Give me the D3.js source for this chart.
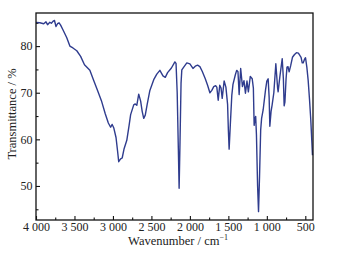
<!DOCTYPE html>
<html>
<head>
<meta charset="utf-8">
<script src="https://cdn.jsdelivr.net/npm/d3@7"></script>
<style>
  body { margin: 0; background: #fff; }
  text { font-family: "Liberation Serif", "Times New Roman", serif; fill: #222; }
</style>
</head>
<body>
<div id="chart"></div>
<script>
// spectrum
var wavenumber = [4000, 3950, 3900, 3870, 3850, 3820, 3800, 3780, 3760, 3740, 3720, 3700, 3680, 3650, 3600, 3560, 3520, 3470, 3420, 3370,
    3300, 3250, 3200, 3150, 3100, 3060, 3030, 3010, 2990, 2960, 2940, 2925, 2900, 2880, 2855, 2820, 2790, 2770, 2730, 2710,
    2690, 2665, 2640, 2620, 2600, 2580, 2555, 2520, 2470, 2430, 2390, 2350, 2320, 2290, 2240, 2195, 2180, 2165, 2150, 2140,
    2130, 2115, 2105, 2080, 2040, 2000, 1960, 1930, 1900, 1870, 1840, 1800, 1770, 1740, 1715, 1690, 1665, 1650, 1632, 1612,
    1595, 1580, 1555, 1532, 1510, 1500, 1490, 1475, 1455, 1440, 1410, 1392, 1375, 1360, 1340, 1317, 1297, 1278, 1258, 1240,
    1215, 1190, 1175, 1165, 1155, 1145, 1135, 1120, 1108, 1095, 1080, 1068, 1048, 1017, 1000, 983, 970, 961, 945, 931,
    909, 883, 860, 853, 831, 800, 785, 775, 765, 750, 738, 725, 710, 690, 667, 640, 615, 590, 571, 555,
    540, 528, 510, 497, 480, 463, 445, 429, 415, 407];
var transmittance = [85.1, 85.0, 84.8, 85.2, 84.6, 85.1, 84.9, 85.3, 85.5, 84.2, 84.8, 85.0, 84.5, 83.5, 81.8, 80.0, 79.6, 79.0, 77.8, 76.0,
    74.8, 72.6, 70.5, 68.3, 65.5, 63.5, 62.6, 63.2, 62.5, 60.4, 57.5, 55.2, 55.8, 56.0, 58.0, 59.8, 63.0, 65.3, 67.4, 67.6,
    67.3, 69.7, 68.2, 66.0, 64.5, 65.2, 67.5, 70.5, 72.8, 74.0, 74.8, 73.6, 73.3, 74.3, 75.3, 76.6, 76.3, 70.0, 58.0, 49.5,
    58.0, 72.0, 74.9, 75.5, 76.4, 76.2, 75.2, 75.7, 75.9, 75.6, 74.6, 73.0, 71.6, 70.0, 70.5, 71.3, 71.5, 71.2, 68.4, 71.6,
    71.0, 68.8, 72.5, 71.2, 67.5, 62.0, 57.9, 63.0, 69.5, 71.8, 73.8, 74.8, 74.5, 69.6, 75.2, 71.3, 72.6, 69.9, 72.5, 70.2,
    73.5, 73.0, 71.0, 63.0, 64.3, 64.9, 61.0, 50.0, 44.5, 52.0, 62.0, 64.5, 66.3, 70.6, 72.5, 73.0, 69.0, 62.8, 66.0, 67.4,
    70.0, 76.2, 71.0, 70.2, 73.4, 77.3, 73.0, 67.2, 68.0, 73.0, 75.5, 75.6, 74.5, 75.8, 77.6, 78.2, 78.6, 78.5, 78.0, 77.6,
    76.4, 76.4, 77.2, 77.5, 75.5, 72.7, 68.5, 64.2, 59.5, 56.6];

// ticks
var xMajor = [4000, 3500, 3000, 2500, 2000, 1500, 1000, 500];
var xLabels = ["4 000", "3 500", "3 000", "2 500", "2 000", "1 500", "1 000", "500"];
var xMinor = [3750, 3250, 2750, 2250, 1750, 1250, 750];
var yMajor = [50, 60, 70, 80];
var yMinor = [45, 55, 65, 75, 85];

var svgWidth = 341;
var svgHeight = 255;

var margin = { top: 13, bottom: 35, left: 36, right: 28 };
var width = svgWidth - margin.left - margin.right;
var height = svgHeight - margin.top - margin.bottom;

var svg = d3.select("#chart")
    .append("svg")
    .attr("width", svgWidth)
    .attr("height", svgHeight);

svg.append("rect")
    .attr("width", svgWidth)
    .attr("height", svgHeight)
    .attr("fill", "#fff");

var chartGroup = svg.append("g")
    .attr("transform", `translate(${margin.left}, ${margin.top})`);

var xScale = d3.scaleLinear().domain([4000, 400]).range([0, width]);
var yScale = d3.scaleLinear().domain([42.7, 87.1]).range([height, 0]);

// x axis, ticks pointing inward
var xAxis = chartGroup.append("g")
    .attr("transform", `translate(0, ${height})`)
    .call(d3.axisBottom(xScale).tickValues(xMajor).tickSize(-4).tickSizeOuter(0).tickPadding(2.5)
        .tickFormat((d, i) => xLabels[i]));
chartGroup.append("g")
    .attr("transform", `translate(0, ${height})`)
    .call(d3.axisBottom(xScale).tickValues(xMinor).tickSize(-2.5).tickSizeOuter(0).tickFormat(""));

var yAxis = chartGroup.append("g")
    .call(d3.axisLeft(yScale).tickValues(yMajor).tickSize(-4).tickSizeOuter(0).tickPadding(3.5));
chartGroup.append("g")
    .call(d3.axisLeft(yScale).tickValues(yMinor).tickSize(-2.5).tickSizeOuter(0).tickFormat(""));

chartGroup.selectAll(".domain").remove();
chartGroup.selectAll(".tick line").attr("stroke", "#111").attr("stroke-width", 1.1);
chartGroup.selectAll(".tick text")
    .style("font-family", "'Liberation Serif', serif")
    .style("font-size", "12px")
    .attr("fill", "#222");

// the spectrum
var line = d3.line()
    .x((d, i) => xScale(wavenumber[i]))
    .y(d => yScale(d));

chartGroup.append("path")
    .datum(transmittance)
    .attr("d", line)
    .attr("fill", "none")
    .attr("stroke", "#2f3c8e")
    .attr("stroke-width", 1.4)
    .attr("stroke-linejoin", "round");

// frame
chartGroup.append("rect")
    .attr("width", width)
    .attr("height", height)
    .attr("fill", "none")
    .attr("stroke", "#111")
    .attr("stroke-width", 1.3);

// labels
chartGroup.append("text")
    .attr("x", 142)
    .attr("y", height + 25)
    .attr("text-anchor", "middle")
    .style("font-size", "12.5px")
    .html("Wavenumber / cm<tspan dy='-5' font-size='8px'>−1</tspan>");

chartGroup.append("text")
    .attr("transform", "rotate(-90)")
    .attr("x", -101)
    .attr("y", -20.5)
    .attr("text-anchor", "middle")
    .style("font-size", "12.5px")
    .text("Transmittance / %");
</script>
</body>
</html>
